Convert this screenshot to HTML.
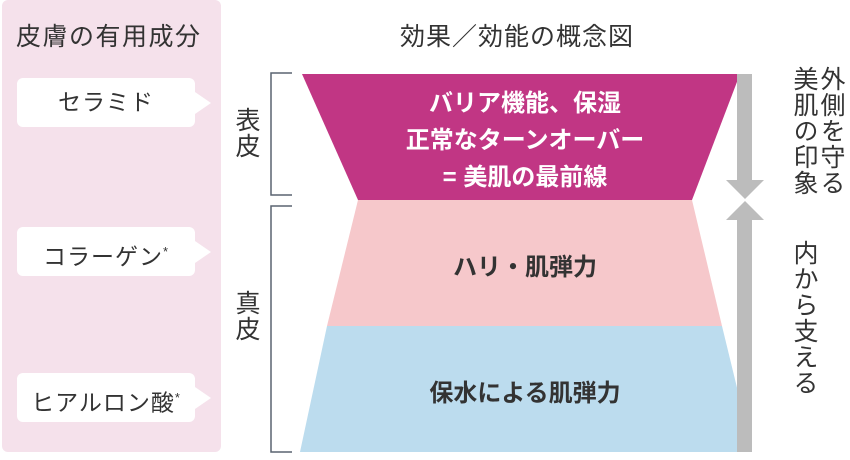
<!DOCTYPE html>
<html><head><meta charset="utf-8"><style>
body{margin:0;width:850px;height:460px;background:#fff;position:relative;overflow:hidden;font-family:"Liberation Sans","Noto Sans CJK JP",sans-serif;color:#333}
.a{position:absolute}
.panel{left:2px;top:0;width:219px;height:452px;background:#f5e1eb;border-radius:6px}
.b{position:absolute;left:17px;width:178px;height:49px;background:#fff;border-radius:6px;font-size:23px;text-align:center;line-height:49px;letter-spacing:1px}
.b:after{content:"";position:absolute;right:-16px;top:14px;border-left:16px solid #fff;border-top:11px solid transparent;border-bottom:11px solid transparent}
.v{writing-mode:vertical-rl;font-size:25px;line-height:27px;letter-spacing:1px}
sup{font-size:13px}
</style></head><body>
<div class="a panel"></div>
<div class="a" style="left:16px;top:17px;font-size:25px;letter-spacing:1.5px">皮膚の有用成分</div>
<div class="b" style="top:78px">セラミド</div>
<div class="b" style="top:227px">コラーゲン<sup>*</sup></div>
<div class="b" style="top:373px">ヒアルロン酸<sup>*</sup></div>
<div class="a" style="left:400px;top:17px;font-size:25px;letter-spacing:1px">効果／効能の概念図</div>
<div class="a v" style="left:232px;top:107px">表皮</div>
<div class="a v" style="left:232px;top:290px">真皮</div>
<svg class="a" style="left:0;top:0" width="850" height="460">
<path d="M292 73H271V195H292M292 206H271V452H292" fill="none" stroke="#5a6470" stroke-width="1.5"/>
<polygon points="302,74 740,74 692,200 358,200" fill="#c13684"/>
<polygon points="358,200 692,200 722,326 327,326" fill="#f6c8cb"/>
<polygon points="327,326 722,326 740,400 740,452 300,452" fill="#bcdcee"/>
<rect x="737" y="74" width="15" height="108" fill="#bcbcbc"/>
<polygon points="726,180 764,180 745,199" fill="#bcbcbc"/>
<polygon points="726,220 764,220 745,201" fill="#bcbcbc"/>
<rect x="737" y="218" width="15" height="234" fill="#bcbcbc"/>
</svg>
<div class="a" style="left:302px;width:446px;top:85px;text-align:center;color:#fff;font-weight:bold;font-size:24px;line-height:37px">バリア機能、保湿<br>正常なターンオーバー<br>= 美肌の最前線</div>
<div class="a" style="left:302px;width:446px;top:247px;text-align:center;font-weight:bold;font-size:24px">ハリ・肌弾力</div>
<div class="a" style="left:302px;width:446px;top:373px;text-align:center;font-weight:bold;font-size:24px">保水による肌弾力</div>
<div class="a v" style="left:790px;top:66px">外側を守る<br>美肌の印象</div>
<div class="a v" style="left:790px;top:240px">内から支える</div>
</body></html>
